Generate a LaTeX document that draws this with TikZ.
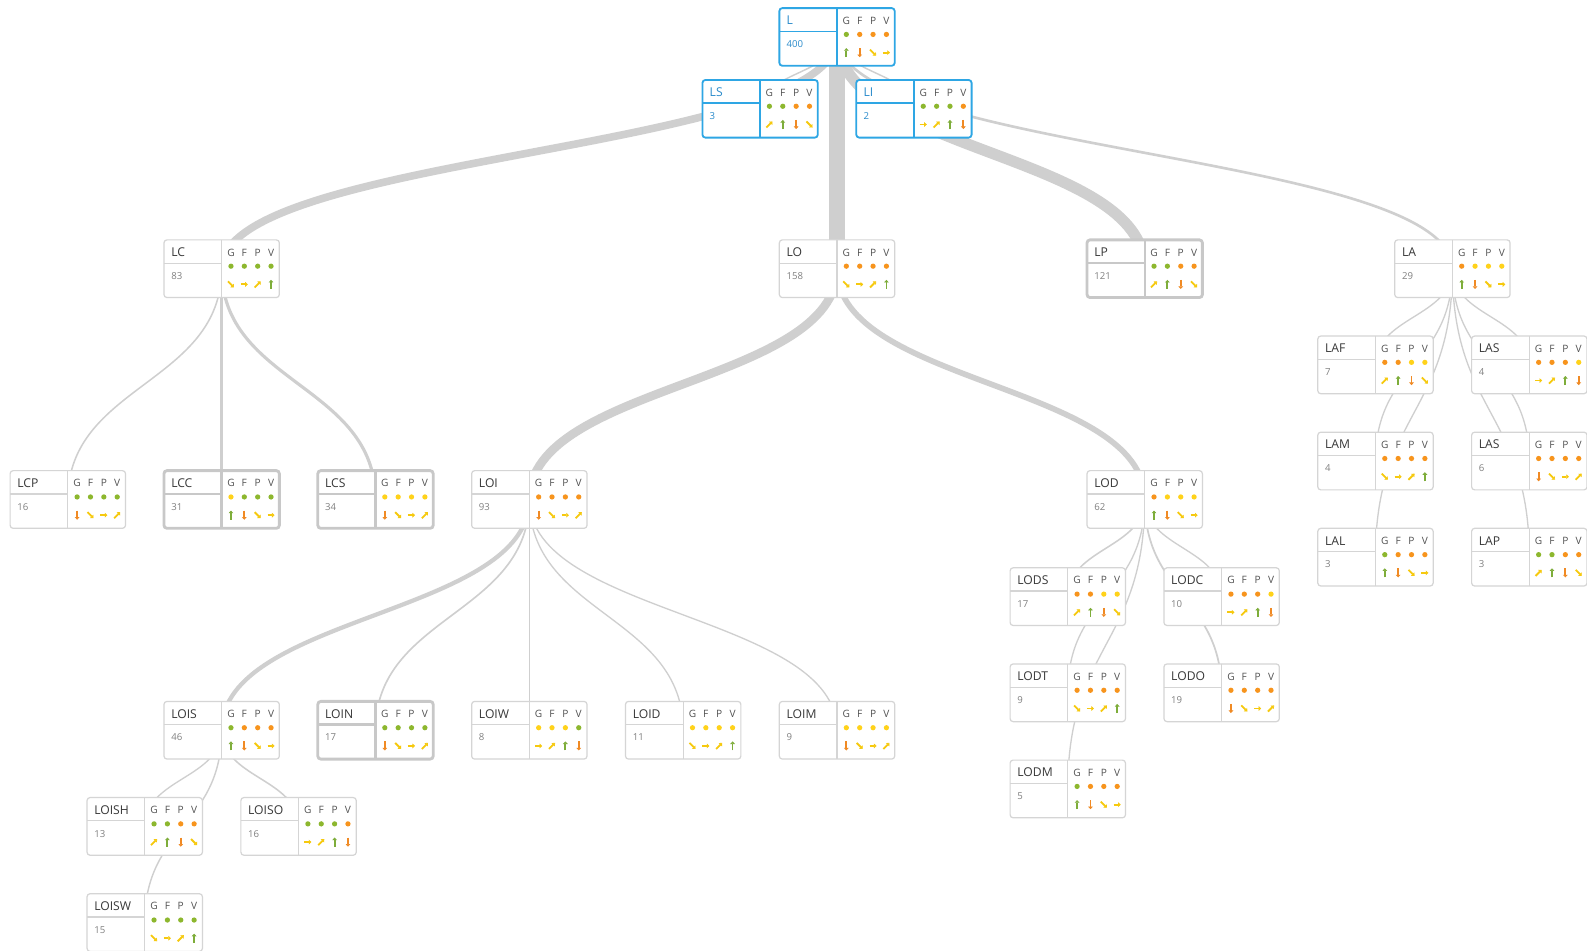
\documentclass[tikz,border=0pt]{standalone}
\usepackage{fontspec}
\setmainfont{Open Sans}
\usetikzlibrary{arrows.meta,calc}
\pgfdeclarelayer{bg}
\pgfsetlayers{bg,main}
\definecolor{colg}{HTML}{8DB72E}
\definecolor{colo}{HTML}{F7941D}
\definecolor{coly}{HTML}{FFD21A}
\definecolor{arrg}{HTML}{7EAD3A}
\definecolor{arro}{HTML}{F08A24}
\definecolor{arry}{HTML}{F6C90E}
\definecolor{edgec}{HTML}{CFCFCF}
\definecolor{bordn}{HTML}{D5D5D5}
\definecolor{bordt}{HTML}{C8C8C8}
\definecolor{bordb}{HTML}{2EA6E4}
\definecolor{txtb}{HTML}{2A8BCB}
\tikzset{
 boxn/.style={draw=bordn, line width=1.2pt, rounded corners=3pt, fill=white, minimum width=114pt, minimum height=57pt, inner sep=0pt, outer sep=0pt},
 boxt/.style={boxn, draw=bordt, line width=2.8pt},
 boxb/.style={boxn, draw=bordb, line width=1.8pt},
 divn/.style={draw=bordn, line width=1.2pt},
 divt/.style={draw=bordt, line width=2.4pt},
 divb/.style={draw=bordb, line width=1.6pt},
 labn/.style={text=black!78, font=\fontsize{12}{13}\selectfont, inner sep=0pt, anchor=base west},
 labt/.style={labn},
 labb/.style={labn, text=txtb},
 numn/.style={text=black!50, font=\fontsize{9.5}{10}\selectfont, inner sep=0pt, anchor=base west},
 numt/.style={numn},
 numb/.style={numn, text=txtb},
 hdr/.style={text=black!68, font=\fontsize{10}{11}\selectfont, inner sep=0pt, anchor=base},
 edge/.style={draw=edgec},
 arw/.style={line width=1.8pt, -{Triangle[length=2.6pt,width=4.6pt]}},
 arru/.pic={\draw[arw, arrg] (0,4.5) -- (0,-4.5);},
 arrd/.pic={\draw[arw, arro] (0,-4.5) -- (0,4.5);},
 arrs/.pic={\draw[arw, arry] (-3,-3) -- (3,3);},
 arrr/.pic={\draw[arw, arry] (-3.5,0) -- (3.5,0);},
 arrn/.pic={\draw[arw, arry] (-3,3) -- (3,-3);},
}
\newcommand{\tn}[8]{%
 \node[box#4, anchor=north west] (#1) at (#2,#3) {};
 \coordinate (#1-c) at ({#2+57},{#3+28.5});
 \draw[div#4] ({#2+57},{#3}) -- ({#2+57},{#3+57});
 \draw[div#4] ({#2},{#3+23}) -- ({#2+57},{#3+23});
 \node[lab#4] (#1-l) at ({#2+7},{#3+16.5}) {#5};
 \node[num#4] (#1-n) at ({#2+7},{#3+39}) {#6};
 \foreach \h [count=\i] in {G,F,P,V} \node[hdr] (#1-h\i) at ({#2+53+13.2*\i},{#3+16}) {\h};
 \foreach \c [count=\i] in {#7} \fill[fill=col\c] ({#2+53+13.2*\i},{#3+26}) circle (2.6pt);
 \foreach \a [count=\i] in {#8} \pic at ({#2+53+13.2*\i},{#3+44}) {arr\a};
}
\newcommand{\ed}[3]{%
 \path ($(#1-c)!0.5!(#2-c)$) coordinate (m);
 \draw[edge, line width=#3pt] (#1-c) .. controls (#1-c |- m) and (#2-c |- m) .. (#2-c);
}
\begin{document}
\begin{tikzpicture}[x=1pt,y=-1pt]
\useasboundingbox (0,0) rectangle (1568,939);
\tn{L}{770}{8}{b}{L}{400}{g,o,o,o}{u,d,s,r}
\tn{LS}{694}{79}{b}{LS}{3}{g,g,o,o}{n,u,d,s}
\tn{LI}{846}{79}{b}{LI}{2}{g,g,g,o}{r,n,u,d}
\tn{LC}{162}{237}{n}{LC}{83}{g,g,g,g}{s,r,n,u}
\tn{LO}{770}{237}{n}{LO}{158}{o,o,o,o}{s,r,n,u}
\tn{LP}{1074}{237}{t}{LP}{121}{g,g,o,o}{n,u,d,s}
\tn{LA}{1378}{237}{n}{LA}{29}{o,y,y,y}{u,d,s,r}
\tn{LCP}{10}{465}{n}{LCP}{16}{g,g,g,g}{d,s,r,n}
\tn{LCC}{162}{465}{t}{LCC}{31}{y,g,g,g}{u,d,s,r}
\tn{LCS}{314}{465}{t}{LCS}{34}{y,y,y,y}{d,s,r,n}
\tn{LOI}{466}{465}{n}{LOI}{93}{o,o,o,o}{d,s,r,n}
\tn{LOD}{1074}{465}{n}{LOD}{62}{o,y,y,y}{u,d,s,r}
\tn{LODS}{998}{561}{n}{LODS}{17}{o,o,y,y}{n,u,d,s}
\tn{LODC}{1150}{561}{n}{LODC}{10}{o,o,o,y}{r,n,u,d}
\tn{LODT}{998}{656}{n}{LODT}{9}{o,o,o,o}{s,r,n,u}
\tn{LODO}{1150}{656}{n}{LODO}{19}{o,o,o,o}{d,s,r,n}
\tn{LODM}{998}{751}{n}{LODM}{5}{g,o,o,o}{u,d,s,r}
\tn{LAF}{1302}{332}{n}{LAF}{7}{o,o,y,y}{n,u,d,s}
\tn{LASa}{1454}{332}{n}{LAS}{4}{o,o,o,y}{r,n,u,d}
\tn{LAM}{1302}{427}{n}{LAM}{4}{o,o,o,o}{s,r,n,u}
\tn{LASb}{1454}{427}{n}{LAS}{6}{o,o,o,o}{d,s,r,n}
\tn{LAL}{1302}{522}{n}{LAL}{3}{g,o,o,o}{u,d,s,r}
\tn{LAP}{1454}{522}{n}{LAP}{3}{g,g,o,o}{n,u,d,s}
\tn{LOIS}{162}{693}{n}{LOIS}{46}{g,o,o,o}{u,d,s,r}
\tn{LOIN}{314}{693}{t}{LOIN}{17}{g,g,g,g}{d,s,r,n}
\tn{LOIW}{466}{693}{n}{LOIW}{8}{y,y,y,g}{r,n,u,d}
\tn{LOID}{618}{693}{n}{LOID}{11}{y,y,y,y}{s,r,n,u}
\tn{LOIM}{770}{693}{n}{LOIM}{9}{y,y,y,y}{d,s,r,n}
\tn{LOISH}{86}{788}{n}{LOISH}{13}{g,g,o,o}{n,u,d,s}
\tn{LOISO}{238}{788}{n}{LOISO}{16}{g,g,g,o}{r,n,u,d}
\tn{LOISW}{86}{883}{n}{LOISW}{15}{g,g,g,g}{s,r,n,u}
\begin{pgfonlayer}{bg}
\fill[white] (0,0) rectangle (1568,939);
\ed{L}{LS}{1.4}
\ed{L}{LI}{1.4}
\ed{L}{LC}{7.5}
\ed{L}{LO}{15}
\ed{L}{LP}{11}
\ed{L}{LA}{2.6}
\ed{LC}{LCP}{1.5}
\ed{LC}{LCC}{2.8}
\ed{LC}{LCS}{3.1}
\ed{LO}{LOI}{8.5}
\ed{LO}{LOD}{5.6}
\ed{LOI}{LOIS}{4.2}
\ed{LOI}{LOIN}{1.6}
\ed{LOI}{LOIW}{1.3}
\ed{LOI}{LOID}{1.3}
\ed{LOI}{LOIM}{1.3}
\ed{LOIS}{LOISH}{1.3}
\ed{LOIS}{LOISO}{1.5}
\ed{LOIS}{LOISW}{1.4}
\ed{LOD}{LODS}{1.5}
\ed{LOD}{LODC}{1.3}
\ed{LOD}{LODT}{1.3}
\ed{LOD}{LODO}{1.7}
\ed{LOD}{LODM}{1.3}
\ed{LA}{LAF}{1.3}
\ed{LA}{LASa}{1.3}
\ed{LA}{LAM}{1.3}
\ed{LA}{LASb}{1.3}
\ed{LA}{LAL}{1.3}
\ed{LA}{LAP}{1.3}
\end{pgfonlayer}
\end{tikzpicture}
\end{document}
